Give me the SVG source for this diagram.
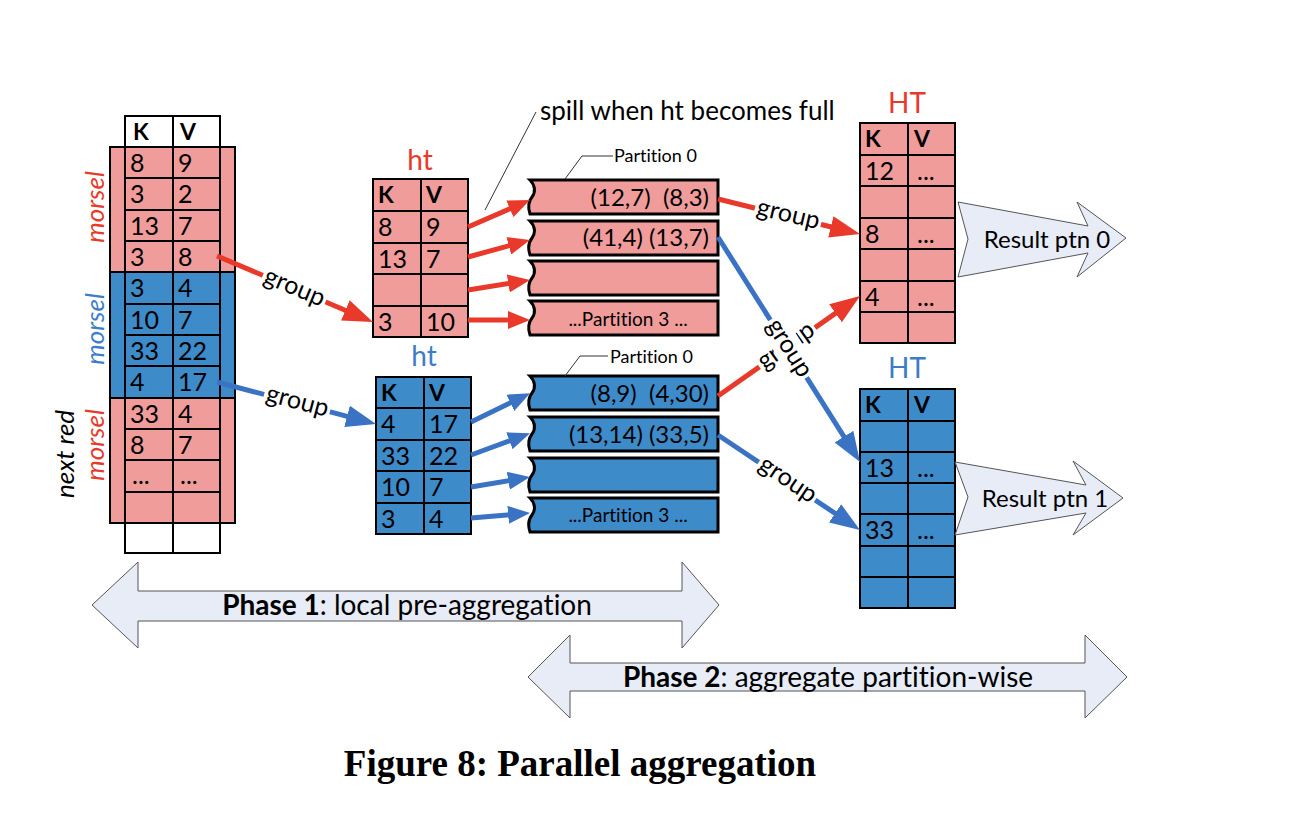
<svg xmlns="http://www.w3.org/2000/svg" width="1290" height="834" viewBox="0 0 1290 834">
<defs>
<style>
.t{font-family:Lato,"Open Sans","Liberation Sans",sans-serif;fill:#000;font-variant-ligatures:none}
.c{font-size:25px}
.h{font-size:23px;font-weight:bold}
.pk{fill:#F09C9B;stroke:#000;stroke-width:2}
.bl{fill:#3D8BC9;stroke:#000;stroke-width:2}
.wh{fill:#fff;stroke:#000;stroke-width:2}
.g{fill:none;stroke:#000;stroke-width:2}
.pr{stroke:#000;stroke-width:3}
.ar{stroke:#E8392A;stroke-width:5;fill:none}
.ab{stroke:#3A72C4;stroke-width:5;fill:none}
.lbl{font-size:25px;text-anchor:middle}
.pa{fill:#E7ECF6;stroke:#555;stroke-width:1}
.thin{fill:none;stroke:#333;stroke-width:1}
.red{fill:#E8392A}
.blu{fill:#3D7CC9}
</style>
<marker id="mr" markerUnits="userSpaceOnUse" viewBox="0 0 30 22" refX="12" refY="11" markerWidth="30" markerHeight="22" orient="auto"><path d="M0,0 L30,11 L0,22 Z" fill="#E8392A"/></marker>
<marker id="mb" markerUnits="userSpaceOnUse" viewBox="0 0 30 22" refX="12" refY="11" markerWidth="30" markerHeight="22" orient="auto"><path d="M0,0 L30,11 L0,22 Z" fill="#3A72C4"/></marker>
<marker id="mrs" markerUnits="userSpaceOnUse" viewBox="0 0 22 18" refX="8" refY="9" markerWidth="22" markerHeight="18" orient="auto"><path d="M0,0 L22,9 L0,18 Z" fill="#E8392A"/></marker>
<marker id="mbs" markerUnits="userSpaceOnUse" viewBox="0 0 22 18" refX="8" refY="9" markerWidth="22" markerHeight="18" orient="auto"><path d="M0,0 L22,9 L0,18 Z" fill="#3A72C4"/></marker>
<path id="ptn" d="M0,0 H188 V34 H0 C-2,28 -2,22 2,17 C6,12 5,5 0,0 Z"/>
</defs>
<rect width="1290" height="834" fill="#fff"/>

<!-- Left input table -->
<g id="input-table">
<rect class="wh" x="125" y="116" width="95" height="31"/>
<rect class="pk" x="110" y="147" width="125" height="125"/>
<rect class="bl" x="110" y="272" width="125" height="126"/>
<rect class="pk" x="110" y="398" width="125" height="125"/>
<rect class="wh" x="125" y="523" width="95" height="30"/>
<path class="g" d="M125,116V553 M173,116V553 M220,116V553 M125,147H220 M125,178H220 M125,210H220 M125,241H220 M125,304H220 M125,335H220 M125,366H220 M125,429H220 M125,460H220 M125,492H220"/>
<g class="t c">
<text class="h" x="133" y="140">K</text><text class="h" x="180" y="140">V</text>
<text x="130" y="172">8</text><text x="178" y="172">9</text>
<text x="130" y="203">3</text><text x="178" y="203">2</text>
<text x="130" y="235">13</text><text x="178" y="235">7</text>
<text x="130" y="266">3</text><text x="178" y="266">8</text>
<text x="130" y="297">3</text><text x="178" y="297">4</text>
<text x="130" y="329">10</text><text x="178" y="329">7</text>
<text x="130" y="360">33</text><text x="178" y="360">22</text>
<text x="130" y="391">4</text><text x="178" y="391">17</text>
<text x="130" y="423">33</text><text x="178" y="423">4</text>
<text x="130" y="454">8</text><text x="178" y="454">7</text>
<text x="132" y="484">...</text><text x="180" y="484">...</text>
</g>
<g class="t" font-size="26" font-style="italic" text-anchor="middle">
<text class="red" transform="translate(104,207) rotate(-90)">morsel</text>
<text class="blu" transform="translate(104,329) rotate(-90)">morsel</text>
<text class="red" transform="translate(104,445) rotate(-90)">morsel</text>
<text transform="translate(74,454) rotate(-90)">next red</text>
</g>
</g>

<!-- red ht -->
<g id="ht-red">
<text class="t red" x="420" y="170" font-size="28" text-anchor="middle">ht</text>
<rect class="pk" x="373" y="179" width="95" height="158"/>
<path class="g" d="M421,179V337 M373,211H468 M373,243H468 M373,274H468 M373,306H468"/>
<g class="t c">
<text class="h" x="378" y="203">K</text><text class="h" x="426" y="203">V</text>
<text x="378" y="236">8</text><text x="426" y="236">9</text>
<text x="378" y="268">13</text><text x="426" y="268">7</text>
<text x="378" y="331">3</text><text x="426" y="331">10</text>
</g>
</g>

<!-- blue ht -->
<g id="ht-blue">
<text class="t blu" x="424" y="366" font-size="28" text-anchor="middle">ht</text>
<rect class="bl" x="376" y="377" width="95" height="157"/>
<path class="g" d="M424,377V534 M376,408H471 M376,440H471 M376,471H471 M376,503H471"/>
<g class="t c">
<text class="h" x="381" y="401">K</text><text class="h" x="429" y="401">V</text>
<text x="381" y="433">4</text><text x="429" y="433">17</text>
<text x="381" y="465">33</text><text x="429" y="465">22</text>
<text x="381" y="496">10</text><text x="429" y="496">7</text>
<text x="381" y="528">3</text><text x="429" y="528">4</text>
</g>
</g>

<!-- red partitions -->
<g id="partitions-red">
<use href="#ptn" x="530" y="180" class="pr" fill="#F09C9B"/>
<use href="#ptn" x="530" y="221" class="pr" fill="#F09C9B"/>
<use href="#ptn" x="530" y="261" class="pr" fill="#F09C9B"/>
<use href="#ptn" x="530" y="301" class="pr" fill="#F09C9B"/>
<text class="t" x="709" y="206" font-size="24" text-anchor="end" xml:space="preserve">(12,7)  (8,3)</text>
<text class="t" x="709" y="246" font-size="24" text-anchor="end">(41,4) (13,7)</text>
<text class="t" x="628" y="326" font-size="19" text-anchor="middle">...Partition 3 ...</text>
<polyline class="thin" points="613,156 582,156 565,179"/>
<text class="t" x="614" y="162" font-size="18">Partition 0</text>
</g>

<!-- blue partitions -->
<g id="partitions-blue">
<use href="#ptn" x="530" y="376" class="pr" fill="#3D8BC9"/>
<use href="#ptn" x="530" y="417" class="pr" fill="#3D8BC9"/>
<use href="#ptn" x="530" y="458" class="pr" fill="#3D8BC9"/>
<use href="#ptn" x="530" y="498" class="pr" fill="#3D8BC9"/>
<text class="t" x="709" y="402" font-size="24" text-anchor="end" xml:space="preserve">(8,9)  (4,30)</text>
<text class="t" x="709" y="443" font-size="24" text-anchor="end">(13,14) (33,5)</text>
<text class="t" x="628" y="522" font-size="19" text-anchor="middle">...Partition 3 ...</text>
<polyline class="thin" points="608,356 580,356 565,376"/>
<text class="t" x="610" y="363" font-size="18">Partition 0</text>
</g>

<!-- HT red -->
<g id="HT-red">
<text class="t red" x="907" y="113" font-size="28" text-anchor="middle">HT</text>
<rect class="pk" x="860" y="123" width="95" height="220"/>
<path class="g" d="M908,123V343 M860,155H955 M860,186H955 M860,218H955 M860,249H955 M860,281H955 M860,312H955"/>
<g class="t c">
<text class="h" x="865" y="147">K</text><text class="h" x="914" y="147">V</text>
<text x="865" y="180">12</text><text x="917" y="180">...</text>
<text x="865" y="243">8</text><text x="917" y="243">...</text>
<text x="865" y="306">4</text><text x="917" y="306">...</text>
</g>
</g>

<!-- HT blue -->
<g id="HT-blue">
<text class="t blu" x="907" y="378" font-size="28" text-anchor="middle">HT</text>
<rect class="bl" x="860" y="389" width="95" height="219"/>
<path class="g" d="M908,389V608 M860,421H955 M860,452H955 M860,483H955 M860,514H955 M860,546H955 M860,577H955"/>
<g class="t c">
<text class="h" x="865" y="413">K</text><text class="h" x="914" y="413">V</text>
<text x="865" y="477">13</text><text x="917" y="477">...</text>
<text x="865" y="539">33</text><text x="917" y="539">...</text>
</g>
</g>

<!-- Result arrows -->
<g id="result-0">
<polygon class="pa" points="958,202 1088,226 1077,202 1126,238 1077,277 1088,253 958,277 968,239"/>
<text class="t" x="1047" y="248" font-size="24" text-anchor="middle">Result ptn 0</text>
</g>
<g id="result-1">
<polygon class="pa" points="955,462 1086,485 1073,461 1123,498 1073,535 1086,513 955,535 968,497"/>
<text class="t" x="1045" y="507" font-size="24" text-anchor="middle">Result ptn 1</text>
</g>

<!-- spill annotation -->
<g id="spill-note">
<line class="thin" x1="536" y1="112" x2="485" y2="210"/>
<text class="t" x="540" y="120" font-size="26">spill when ht becomes full</text>
</g>

<!-- connectors -->
<g id="connectors">
<line class="ar" x1="217" y1="256" x2="356.4" y2="315" marker-end="url(#mr)"/>
<line class="ab" x1="217" y1="382" x2="358.6" y2="419.4" marker-end="url(#mb)"/>
<line class="ar" x1="468" y1="227" x2="517.2" y2="205.6" marker-end="url(#mrs)"/>
<line class="ar" x1="468" y1="257" x2="516.5" y2="243.7" marker-end="url(#mrs)"/>
<line class="ar" x1="468" y1="290" x2="516.2" y2="282.2" marker-end="url(#mrs)"/>
<line class="ar" x1="468" y1="320" x2="516" y2="320" marker-end="url(#mrs)"/>
<line class="ab" x1="471" y1="422" x2="517.5" y2="399.3" marker-end="url(#mbs)"/>
<line class="ab" x1="471" y1="455" x2="516.9" y2="438" marker-end="url(#mbs)"/>
<line class="ab" x1="471" y1="487" x2="516.2" y2="479.4" marker-end="url(#mbs)"/>
<line class="ab" x1="471" y1="518" x2="516.1" y2="514.2" marker-end="url(#mbs)"/>
<line class="ar" x1="718" y1="199" x2="842.5" y2="229.7" marker-end="url(#mr)"/>
<line class="ab" x1="718" y1="237" x2="850.4" y2="446.8" marker-end="url(#mb)"/>
<line class="ar" x1="718" y1="396" x2="845.3" y2="306.4" marker-end="url(#mr)"/>
<line class="ab" x1="718" y1="435" x2="845" y2="520" marker-end="url(#mb)"/>
<g class="t lbl">
<g transform="translate(294,289) rotate(22.9)"><rect x="-34" y="-15" width="68" height="28" fill="#fff"/><text y="6">group</text></g>
<g transform="translate(297,403) rotate(14.8)"><rect x="-34" y="-15" width="68" height="28" fill="#fff"/><text y="6">group</text></g>
<g transform="translate(788,216) rotate(13.5)"><rect x="-34" y="-15" width="68" height="28" fill="#fff"/><text y="6">group</text></g>
<g transform="translate(787,347) rotate(-35.2)"><rect x="-34" y="-15" width="68" height="28" fill="#fff"/><text y="6">group</text></g>
<g transform="translate(788,349) rotate(57.7)"><rect x="-34" y="-15" width="68" height="28" fill="#fff"/><text y="6">group</text></g>
<g transform="translate(787,481) rotate(33.8)"><rect x="-34" y="-15" width="68" height="28" fill="#fff"/><text y="6">group</text></g>
</g>
</g>

<!-- Phase arrows -->
<g id="phase-1">
<polygon class="pa" points="92,605 138,562 138,591 682,591 682,562 719,605 682,648 682,621 138,621 138,648"/>
<text class="t" x="407" y="615" font-size="28" text-anchor="middle"><tspan font-weight="bold">Phase 1</tspan>: local pre-aggregation</text>
</g>
<g id="phase-2">
<polygon class="pa" points="528,677 570,635 570,663 1085,663 1085,635 1127,677 1085,718 1085,691 570,691 570,718"/>
<text class="t" x="828" y="687" font-size="28" text-anchor="middle"><tspan font-weight="bold">Phase 2</tspan>: aggregate partition-wise</text>
</g>

<text id="caption" x="580" y="776" font-family="'Liberation Serif','Times New Roman',serif" font-weight="bold" font-size="37" text-anchor="middle">Figure 8: Parallel aggregation</text>
</svg>
